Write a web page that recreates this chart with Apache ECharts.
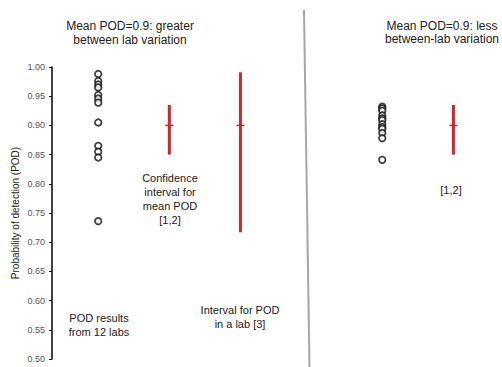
<!DOCTYPE html>
<html>
<head>
<meta charset="utf-8">
<script src="https://cdn.jsdelivr.net/npm/echarts@6/dist/echarts.min.js"></script>
<style>
html,body{margin:0;padding:0;background:#fff;}
#chart{width:502px;height:367px;}
</style>
</head>
<body>
<div id="chart"></div>
<script>
// ---- data ----
const yTicks = [0.50, 0.55, 0.60, 0.65, 0.70, 0.75, 0.80, 0.85, 0.90, 0.95, 1.00];
const leftCategories = ['POD results from 12 labs', 'Confidence interval for mean POD', 'Interval for POD in a lab'];
const rightCategories = ['POD results from 12 labs', 'Confidence interval for mean POD'];
const leftLabPOD = [0.988, 0.976, 0.970, 0.965, 0.952, 0.946, 0.939, 0.905, 0.865, 0.855, 0.845, 0.736];
const rightLabPOD = [0.932, 0.929, 0.925, 0.917, 0.912, 0.909, 0.902, 0.897, 0.894, 0.887, 0.878, 0.841];
// intervals: [categoryIndex, low, high, mean]
const leftIntervals = [[1, 0.850, 0.935, 0.900], [2, 0.717, 0.991, 0.900]];
const rightIntervals = [[1, 0.850, 0.935, 0.900]];
const leftTitle = 'Mean POD=0.9: greater\nbetween lab variation';
const rightTitle = 'Mean POD=0.9: less\nbetween-lab variation';
const yAxisTitle = 'Probability of detection (POD)';

const FONT = 'Liberation Sans, Arial, sans-serif';
const RED = '#d0262d';

const chart = echarts.init(document.getElementById('chart'), null, {renderer: 'svg'});

function pts(vals) { return vals.map(v => [1, v]); }
function ivData(arr) { return arr.map(d => [d[0] + 1, d[1], d[2], d[3]]); }

function renderInterval(params, api) {
  const x = api.value(0);
  const lo = api.coord([x, api.value(1)]);
  const hi = api.coord([x, api.value(2)]);
  const mid = api.coord([x, api.value(3)]);
  return {
    type: 'group',
    children: [
      {type: 'line', shape: {x1: lo[0], y1: lo[1], x2: hi[0], y2: hi[1]},
       style: {stroke: RED, lineWidth: 3}},
      {type: 'line', shape: {x1: mid[0] - 4, y1: mid[1], x2: mid[0] + 4, y2: mid[1]},
       style: {stroke: RED, lineWidth: 1.5}}
    ]
  };
}

const yBase = {
  type: 'value', min: 0.5, max: 1.0, interval: 0.05,
  splitLine: {show: false}
};

const option = {
  backgroundColor: '#fff',
  animation: false,
  grid: [
    {left: 52, top: 67, width: 224, height: 292},
    {left: 336, top: 67, width: 153, height: 292}
  ],
  xAxis: [
    {gridIndex: 0, type: 'value', min: 0.35, max: 3.5, show: false},
    {gridIndex: 1, type: 'value', min: 0.35, max: 2.5, show: false}
  ],
  yAxis: [
    Object.assign({}, yBase, {
      gridIndex: 0,
      name: yAxisTitle, nameLocation: 'middle', nameRotate: 90, nameGap: 32,
      nameTextStyle: {fontFamily: FONT, fontSize: 10, color: '#222'},
      axisLine: {show: true, lineStyle: {color: '#111', width: 1.6}},
      axisTick: {show: true, inside: false, length: 3, lineStyle: {color: '#111', width: 1}},
      axisLabel: {fontFamily: FONT, fontSize: 9, color: '#555', margin: 7,
                  formatter: v => v.toFixed(2)}
    }),
    Object.assign({}, yBase, {gridIndex: 1, show: false})
  ],
  series: [
    {type: 'scatter', xAxisIndex: 0, yAxisIndex: 0, data: pts(leftLabPOD),
     symbol: 'circle', symbolSize: 6.5,
     itemStyle: {color: '#fff', borderColor: '#111', borderWidth: 1.8}},
    {type: 'scatter', xAxisIndex: 1, yAxisIndex: 1, data: pts(rightLabPOD),
     symbol: 'circle', symbolSize: 6.5,
     itemStyle: {color: '#fff', borderColor: '#111', borderWidth: 1.8}},
    {type: 'custom', xAxisIndex: 0, yAxisIndex: 0, data: ivData(leftIntervals),
     renderItem: renderInterval, encode: {x: 0, y: [1, 2, 3]}},
    {type: 'custom', xAxisIndex: 1, yAxisIndex: 1, data: ivData(rightIntervals),
     renderItem: renderInterval, encode: {x: 0, y: [1, 2, 3]}}
  ],
  graphic: [
    {type: 'line', shape: {x1: 304, y1: 10, x2: 309.5, y2: 367},
     style: {stroke: '#a6a6a6', lineWidth: 2}},
    {type: 'text', x: 130, y: 19, style: {text: leftTitle, align: 'center', verticalAlign: 'top',
      font: '12px ' + FONT, fill: '#222', lineHeight: 14}},
    {type: 'text', x: 442, y: 19, style: {text: rightTitle, align: 'center', verticalAlign: 'top',
      font: '12px ' + FONT, fill: '#222', lineHeight: 13}},
    {type: 'text', x: 99, y: 311, style: {text: 'POD results\nfrom 12 labs', align: 'center', verticalAlign: 'top',
      font: '11px ' + FONT, fill: '#222', lineHeight: 14}},
    {type: 'text', x: 170, y: 171, style: {text: 'Confidence\ninterval for\nmean POD\n[1,2]', align: 'center', verticalAlign: 'top',
      font: '11px ' + FONT, fill: '#222', lineHeight: 14}},
    {type: 'text', x: 240, y: 303, style: {text: 'Interval for POD\nin a lab [3]', align: 'center', verticalAlign: 'top',
      font: '11px ' + FONT, fill: '#222', lineHeight: 14}},
    {type: 'text', x: 451, y: 183, style: {text: '[1,2]', align: 'center', verticalAlign: 'top',
      font: '11px ' + FONT, fill: '#222', lineHeight: 14}}
  ]
};
chart.setOption(option);
</script>
</body>
</html>
